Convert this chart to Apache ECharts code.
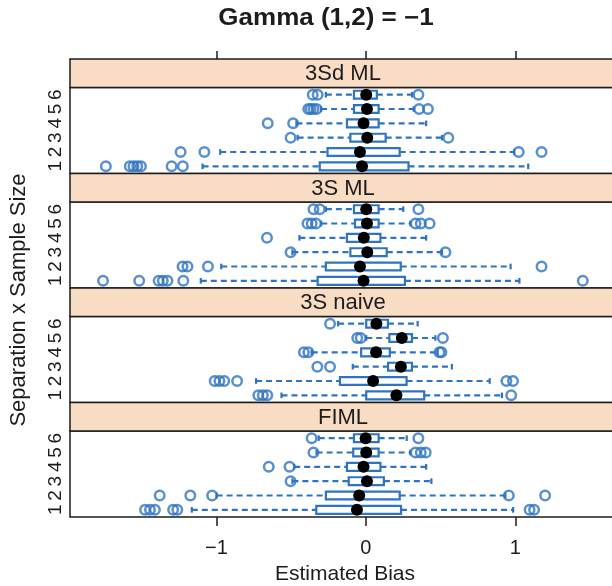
<!DOCTYPE html>
<html>
<head>
<meta charset="utf-8">
<script src="https://cdn.jsdelivr.net/npm/echarts@6/dist/echarts.min.js"></script>
<style>
html, body { margin: 0; padding: 0; background: #fff; overflow: hidden; }
#chart { width: 624px; height: 586px; }
</style>
</head>
<body>
<div id="chart"></div>
<script>
// rows of each panel, bottom to top
const rows = ['1', '2', '3', '4', '5', '6'];
const panelNames = ['3Sd ML', '3S ML', '3S naive', 'FIML'];
const xTicks = [-1, 0, 1];
const xTickLabels = ['\u22121', '0', '1'];

// [lower whisker, Q1, median, Q3, upper whisker], row 1 first
const box3SdML = [
    [-1.093, -0.309, -0.026, 0.285, 1.086],
    [-0.975, -0.257, -0.040, 0.226, 0.992],
    [-0.457, -0.104, 0.009, 0.132, 0.509],
    [-0.465, -0.127, -0.016, 0.085, 0.403],
    [-0.300, -0.080, 0.007, 0.085, 0.320],
    [-0.268, -0.080, 0.002, 0.073, 0.309]
];
const out3SdML = [
    [-1.740, -1.580, -1.555, -1.530, -1.505, -1.300, -1.225],
    [-1.240, -1.081, 1.022, 1.175],
    [-0.504, 0.551],
    [-0.657, -0.487],
    [-0.386, -0.370, -0.350, -0.330, 0.356, 0.415],
    [-0.356, -0.323, 0.351]
];

const box3SML = [
    [-1.105, -0.323, -0.016, 0.261, 1.027],
    [-0.968, -0.268, -0.040, 0.233, 0.968],
    [-0.492, -0.104, 0.009, 0.139, 0.509],
    [-0.445, -0.127, -0.014, 0.097, 0.403],
    [-0.299, -0.073, 0.007, 0.085, 0.297],
    [-0.268, -0.080, 0.002, 0.085, 0.250]
];
const out3SML = [
    [-1.759, -1.517, -1.387, -1.359, -1.328, -1.222, 1.451],
    [-1.227, -1.194, -1.057, 1.175],
    [-0.504, 0.532],
    [-0.662],
    [-0.391, -0.363, -0.334, 0.332, 0.367, 0.426],
    [-0.351, -0.309, 0.351]
];

const box3Snaive = [
    [-0.565, 0.002, 0.204, 0.390, 0.910],
    [-0.735, -0.174, 0.048, 0.272, 0.828],
    [-0.088, 0.148, 0.234, 0.308, 0.575],
    [-0.363, -0.032, 0.068, 0.160, 0.480],
    [0.002, 0.157, 0.240, 0.308, 0.465],
    [-0.186, 0.002, 0.070, 0.147, 0.346]
];
const out3Snaive = [
    [-0.720, -0.690, -0.660, 0.972],
    [-1.012, -0.980, -0.948, -0.862, 0.940, 0.984],
    [-0.325, -0.240],
    [-0.415, -0.385, 0.492, 0.505],
    [-0.058, -0.035, 0.515],
    [-0.240]
];

const boxFIML = [
    [-1.165, -0.332, -0.060, 0.235, 0.985],
    [-0.999, -0.268, -0.045, 0.226, 0.933],
    [-0.492, -0.115, 0.007, 0.120, 0.438],
    [-0.480, -0.127, -0.016, 0.097, 0.403],
    [-0.330, -0.085, 0.002, 0.085, 0.297],
    [-0.316, -0.080, -0.002, 0.085, 0.273]
];
const outFIML = [
    [-1.478, -1.445, -1.412, -1.290, -1.262, 1.095, 1.125],
    [-1.380, -1.175, -1.029, 0.956, 1.199],
    [-0.504],
    [-0.650, -0.511],
    [-0.351, 0.332, 0.367, 0.400],
    [-0.363, 0.351]
];

const boxes = [box3SdML, box3SML, box3Snaive, boxFIML];
const outliers = [out3SdML, out3SML, out3Snaive, outFIML];

const blue = '#2f74c0';
const ink = '#1c1c1c';
const font = '"Liberation Sans", Arial, Helvetica, sans-serif';

// panels run past the right edge of the 612px window, as in the cropped figure
const plotLeft = 70;
const plotWidth = 550;
const stripTop = 59;
const stripH = 28.5;
const panelH = 86;
const xMin = -1.98;
const xMax = 1.7;

const panelTop = i => stripTop + i * (stripH + panelH) + stripH;

function renderBox(params, api) {
    const r = api.value(0);
    const p = v => api.coord([v, r]);
    const wl = p(api.value(1)), q1 = p(api.value(2)), md = p(api.value(3)),
        q3 = p(api.value(4)), wh = p(api.value(5));
    const y = q1[1];
    const h = api.size([0, 1])[1] * 0.55;
    const cap = 2.8;
    const dash = { stroke: blue, lineWidth: 2.2, lineDash: [6, 4] };
    const solid = { stroke: blue, lineWidth: 2.2 };
    return {
        type: 'group',
        children: [
            { type: 'line', shape: { x1: wl[0], y1: y, x2: q1[0], y2: y }, style: dash },
            { type: 'line', shape: { x1: q3[0], y1: y, x2: wh[0], y2: y }, style: dash },
            { type: 'line', shape: { x1: wl[0], y1: y - cap, x2: wl[0], y2: y + cap }, style: solid },
            { type: 'line', shape: { x1: wh[0], y1: y - cap, x2: wh[0], y2: y + cap }, style: solid },
            { type: 'rect', shape: { x: q1[0], y: y - h / 2, width: q3[0] - q1[0], height: h },
              style: { fill: '#fff', stroke: blue, lineWidth: 2.2 } },
            { type: 'circle', shape: { cx: md[0], cy: y, r: 6 }, style: { fill: '#000' } }
        ]
    };
}

const grids = [], xAxes = [], yAxes = [], series = [], graphics = [];

panelNames.forEach((name, i) => {
    const top = panelTop(i);
    grids.push({
        left: plotLeft, width: plotWidth, top: top, height: panelH,
        show: true, backgroundColor: '#fff', borderColor: ink, borderWidth: 1.5
    });
    const last = i === panelNames.length - 1;
    xAxes.push({
        type: 'value', gridIndex: i, min: xMin, max: xMax, position: 'bottom',
        splitLine: { show: false },
        axisLine: { show: false },
        axisTick: { show: last, length: 9, inside: false, customValues: xTicks,
            lineStyle: { color: ink, width: 1.5 } },
        axisLabel: {
            show: last, customValues: xTicks, margin: 21,
            fontSize: 20, color: ink, fontFamily: font,
            formatter: v => xTickLabels[xTicks.findIndex(t => Math.abs(t - v) < 1e-9)]
        },
        name: last ? 'Estimated Bias' : '',
        nameLocation: 'middle', nameGap: 47,
        nameTextStyle: { fontSize: 21, color: ink, fontFamily: font }
    });
    yAxes.push({
        type: 'category', gridIndex: i, data: rows, boundaryGap: true,
        axisLine: { show: false },
        axisTick: { show: false },
        splitLine: { show: false },
        axisLabel: { rotate: 90, margin: 5, fontSize: 19, color: ink, fontFamily: font }
    });
    series.push({
        type: 'custom', xAxisIndex: i, yAxisIndex: i,
        renderItem: renderBox,
        encode: { x: [1, 2, 3, 4, 5], y: 0 },
        data: boxes[i].map((b, r) => [r].concat(b)),
        z: 2
    });
    const pts = [];
    outliers[i].forEach((list, r) => list.forEach(v => pts.push([v, r])));
    series.push({
        type: 'scatter', xAxisIndex: i, yAxisIndex: i,
        data: pts, symbol: 'circle', symbolSize: 9.5,
        itemStyle: { color: 'rgba(0,0,0,0)', borderColor: blue, borderWidth: 2.5 },
        z: 3
    });
    const sTop = top - stripH;
    graphics.push({
        type: 'rect', shape: { x: plotLeft, y: sTop, width: plotWidth, height: stripH },
        style: { fill: '#f8dcc4', stroke: ink, lineWidth: 1.5 }, z: 10
    });
    graphics.push({
        type: 'text', x: 343, y: sTop + stripH / 2 + 1,
        style: { text: name, fontSize: 22, fill: ink, fontFamily: font,
            align: 'center', verticalAlign: 'middle' }, z: 11
    });
});

// top axis ticks above the first strip
xAxes.push({
    type: 'value', gridIndex: 0, min: xMin, max: xMax, position: 'top', offset: stripH,
    splitLine: { show: false },
    axisLine: { show: false },
    axisTick: { show: true, length: 8, customValues: xTicks, lineStyle: { color: ink, width: 1.5 } },
    axisLabel: { show: false }
});

graphics.push({
    type: 'text', x: 19, y: 300, rotation: Math.PI / 2,
    style: { text: 'Separation x Sample Size', fontSize: 22, fill: ink, fontFamily: font,
        align: 'center', verticalAlign: 'middle' }
});
graphics.push({
    type: 'text', x: 326, y: 19, scaleX: 1.13,
    style: { text: 'Gamma (1,2) = \u22121', fontSize: 23, fontWeight: 'bold', fill: ink,
        fontFamily: font, align: 'center', verticalAlign: 'middle' }
});

const chart = echarts.init(document.getElementById('chart'));
chart.setOption({
    backgroundColor: '#fff',
    animation: false,
    grid: grids,
    xAxis: xAxes,
    yAxis: yAxes,
    series: series,
    graphic: graphics
});
</script>
</body>
</html>
